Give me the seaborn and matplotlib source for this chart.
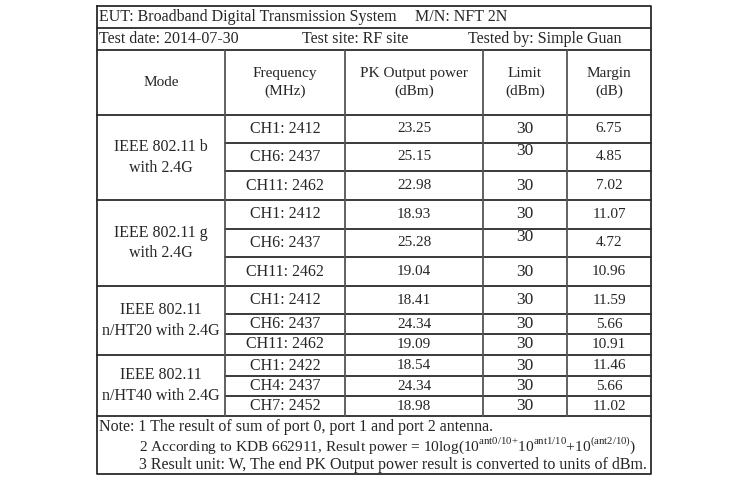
import matplotlib
matplotlib.use("Agg")
import matplotlib.pyplot as plt
import seaborn as sns

# table content
eut_line = ["EUT: Broadband Digital Transmission System", "M/N: NFT 2N"]
info_line = ["Test date: 2014-07-30", "Test site: RF site", "Tested by: Simple Guan"]
headers = ["Mode", "Frequency\n(MHz)", "PK Output power\n(dBm)", "Limit\n(dBm)", "Margin\n(dB)"]
modes = ["IEEE 802.11 b\nwith 2.4G", "IEEE 802.11 g\nwith 2.4G",
         "IEEE 802.11\nn/HT20 with 2.4G", "IEEE 802.11\nn/HT40 with 2.4G"]
frequency = ["CH1: 2412", "CH6: 2437", "CH11: 2462",
             "CH1: 2412", "CH6: 2437", "CH11: 2462",
             "CH1: 2412", "CH6: 2437", "CH11: 2462",
             "CH1: 2422", "CH4: 2437", "CH7: 2452"]
pk_power = [23.25, 25.15, 22.98, 18.93, 25.28, 19.04, 18.41, 24.34, 19.09, 18.54, 24.34, 18.98]
limit = [30, 30, 30, 30, 30, 30, 30, 30, 30, 30, 30, 30]
margin = [6.75, 4.85, 7.02, 11.07, 4.72, 10.96, 11.59, 5.66, 10.91, 11.46, 5.66, 11.02]
notes = ["Note: 1 The result of sum of port 0, port 1 and port 2 antenna.",
         r"2 According to KDB 662911, Result power = 10log(10$^{\mathrm{ant0/10{+}}}$10$^{\mathrm{ant1/10}}$+10$^{\mathrm{(ant2/10)}}$)",
         "3 Result unit: W, The end PK Output power result is converted to units of dBm."]

# layout (pixels)
col_x = [97, 225, 345, 483, 567, 651]
top_lines = [6, 28, 50, 115]
row_y = [115, 143, 171, 200, 229, 257, 286, 314, 334, 355, 376, 396, 416]
bottom = 474
group_rows = 3

sns.set_theme(style="white")
plt.rcParams["font.family"] = ["Liberation Serif", "DejaVu Serif"]
plt.rcParams["mathtext.fontset"] = "custom"
plt.rcParams["mathtext.rm"] = "Liberation Serif"

fig = plt.figure(figsize=(7.5, 4.8), dpi=100)
ax = fig.add_axes([0, 0, 1, 1])
ax.set_xlim(0, 750)
ax.set_ylim(480, 0)
ax.axis("off")

lc = "#2b2b2b"
lw = 1.3
fs = 11
fs_big = 11.5

# outer box and horizontal rules
ax.plot([col_x[0], col_x[-1], col_x[-1], col_x[0], col_x[0]],
        [top_lines[0], top_lines[0], bottom, bottom, top_lines[0]], color=lc, lw=lw)
for y in top_lines[1:]:
    ax.plot([col_x[0], col_x[-1]], [y, y], color=lc, lw=lw)
ax.plot([col_x[0], col_x[-1]], [row_y[-1], row_y[-1]], color=lc, lw=lw)
for i, y in enumerate(row_y[1:-1], start=1):
    x0 = col_x[0] if i % group_rows == 0 else col_x[1]
    ax.plot([x0, col_x[-1]], [y, y], color=lc, lw=lw)
for x in col_x[1:-1]:
    ax.plot([x, x], [top_lines[-2], row_y[-1]], color="#555555", lw=lw)

# title rows
ax.text(99, 17, eut_line[0], fontsize=fs_big, va="center")
ax.text(415, 17, eut_line[1], fontsize=fs_big, va="center")
ax.text(99, 39, info_line[0], fontsize=fs_big, va="center")
ax.text(302, 39, info_line[1], fontsize=fs_big, va="center")
ax.text(468, 39, info_line[2], fontsize=fs_big, va="center")

# header
hy = (top_lines[-2] + top_lines[-1]) / 2
for j, h in enumerate(headers):
    cx = (col_x[j] + col_x[j + 1]) / 2
    ax.text(cx, hy, h, fontsize=fs, ha="center", va="center", multialignment="center",
            linespacing=1.5)

# modes
for g, m in enumerate(modes):
    cy = (row_y[g * group_rows] + row_y[(g + 1) * group_rows]) / 2
    ax.text((col_x[0] + col_x[1]) / 2, cy, m, fontsize=fs_big, ha="center", va="center",
            multialignment="center", linespacing=1.35)

# body cells
raised = {1, 4}
for i in range(len(frequency)):
    cy = (row_y[i] + row_y[i + 1]) / 2
    ax.text((col_x[1] + col_x[2]) / 2, cy, frequency[i], fontsize=fs_big, ha="center", va="center")
    ax.text((col_x[2] + col_x[3]) / 2, cy, f"{pk_power[i]:.2f}", fontsize=fs, ha="center", va="center")
    ly = cy - 6 if i in raised else cy
    ax.text((col_x[3] + col_x[4]) / 2, ly, str(limit[i]), fontsize=fs + 1.5, ha="center", va="center")
    ax.text((col_x[4] + col_x[5]) / 2, cy, f"{margin[i]:.2f}", fontsize=fs, ha="center", va="center")

# notes
ax.text(99, 427, notes[0], fontsize=fs_big, va="center")
ax.text(139, 446, notes[1], fontsize=fs_big - 0.4, va="center")
ax.text(139, 465, notes[2], fontsize=fs_big, va="center")

fig.savefig("out.png", dpi=100)
